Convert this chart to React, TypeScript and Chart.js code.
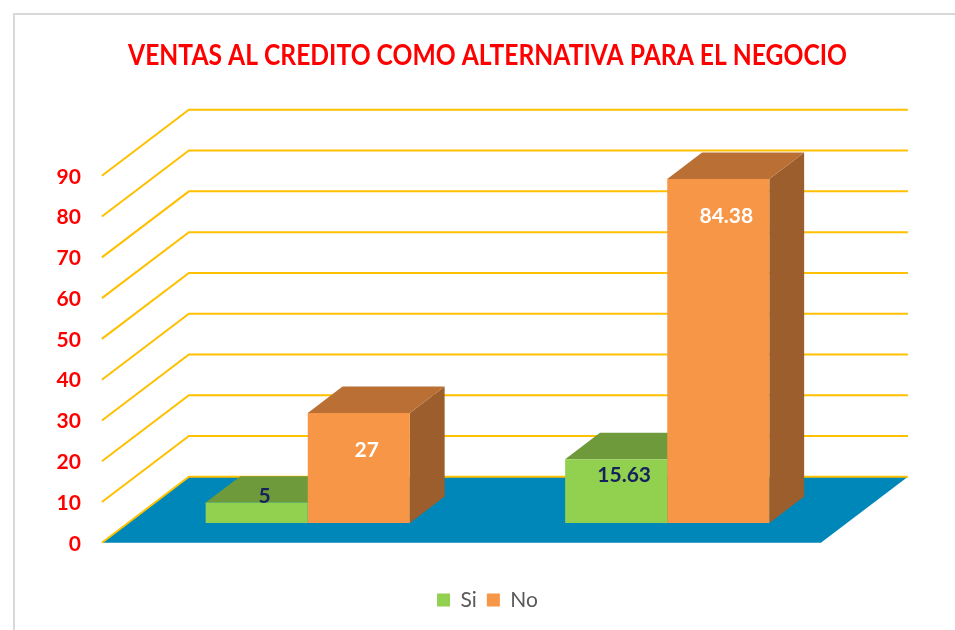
import React, { useEffect, useRef } from "react";
import { Chart, registerables } from "chart.js";

Chart.register(...registerables);

// ---- data ----
const TITLE = "VENTAS AL CREDITO COMO ALTERNATIVA PARA EL NEGOCIO";
const categories = ["", ""];
const seriesNames = ["Si", "No"];
const siValues = [5, 15.63];
const noValues = [27, 84.38];
const yMin = 0;
const yMax = 90;
const yStep = 10;

// ---- style ----
const FONT = "Lato, 'Open Sans', sans-serif";
const DEPTH_X = 87;
const DEPTH_Y = 66;
const BAR_NEAR = 0.3;
const BAR_FAR = 0.7;
const frontColors = ["#92D050", "#F79646"];
const faceColors = [
  { top: "#6E9A3B", side: "#5B8330" },
  { top: "#BA6F34", side: "#9C5E2C" },
];
const labelColors = ["#14215A", "#FFFFFF"];

function plane(f: number) {
  return { dx: (f - BAR_NEAR) * DEPTH_X, dy: -(f - BAR_NEAR) * DEPTH_Y };
}

const threeD = {
  id: "threeD",
  beforeDraw(chart: any) {
    const { ctx, width, height } = chart;
    ctx.save();
    ctx.fillStyle = "#FFFFFF";
    ctx.fillRect(0, 0, width, height);
    ctx.strokeStyle = "#D9D9D9";
    ctx.lineWidth = 2;
    ctx.strokeRect(14, 14, width + 40, height + 40);
    ctx.restore();
  },
  beforeDatasetsDraw(chart: any) {
    const { ctx, chartArea: a, scales } = chart;
    const y = scales.y;
    const near = plane(0);
    const far = plane(1);
    const y0 = y.getPixelForValue(0);
    ctx.save();
    // floor
    ctx.fillStyle = "#0087B9";
    ctx.beginPath();
    ctx.moveTo(a.left + near.dx, y0 + near.dy);
    ctx.lineTo(a.left + far.dx, y0 + far.dy);
    ctx.lineTo(a.right + far.dx, y0 + far.dy);
    ctx.lineTo(a.right + near.dx, y0 + near.dy);
    ctx.closePath();
    ctx.fill();
    // gridlines (side wall + back wall)
    ctx.strokeStyle = "#FFC000";
    ctx.lineWidth = 2;
    for (const t of y.ticks) {
      const py = y.getPixelForValue(t.value);
      ctx.beginPath();
      ctx.moveTo(a.left + near.dx, py + near.dy);
      ctx.lineTo(a.left + far.dx, py + far.dy);
      ctx.lineTo(a.right + far.dx, py + far.dy);
      ctx.stroke();
    }
    // tick labels
    ctx.fillStyle = "#FF0000";
    ctx.font = `bold 21px ${FONT}`;
    ctx.textAlign = "right";
    ctx.textBaseline = "middle";
    for (const t of y.ticks) {
      const py = y.getPixelForValue(t.value);
      ctx.fillText(t.label ?? String(t.value), a.left + near.dx - 21, py + near.dy + 1);
    }
    // bar side + top faces
    const bdx = (BAR_FAR - BAR_NEAR) * DEPTH_X;
    const bdy = (BAR_FAR - BAR_NEAR) * DEPTH_Y;
    chart.data.datasets.forEach((_ds: any, i: number) => {
      const meta = chart.getDatasetMeta(i);
      if (meta.hidden) return;
      meta.data.forEach((el: any) => {
        const { x, y: top, base, width } = el.getProps(["x", "y", "base", "width"], true);
        const l = x - width / 2;
        const r = x + width / 2;
        ctx.fillStyle = faceColors[i].side;
        ctx.beginPath();
        ctx.moveTo(r, top);
        ctx.lineTo(r + bdx, top - bdy);
        ctx.lineTo(r + bdx, base - bdy);
        ctx.lineTo(r, base);
        ctx.closePath();
        ctx.fill();
        ctx.fillStyle = faceColors[i].top;
        ctx.beginPath();
        ctx.moveTo(l, top);
        ctx.lineTo(r, top);
        ctx.lineTo(r + bdx, top - bdy);
        ctx.lineTo(l + bdx, top - bdy);
        ctx.closePath();
        ctx.fill();
      });
    });
    ctx.restore();
  },
  afterDatasetsDraw(chart: any) {
    const { ctx } = chart;
    const bdy = (BAR_FAR - BAR_NEAR) * DEPTH_Y;
    ctx.save();
    ctx.font = `bold 21px ${FONT}`;
    ctx.textAlign = "center";
    ctx.textBaseline = "middle";
    chart.data.datasets.forEach((ds: any, i: number) => {
      const meta = chart.getDatasetMeta(i);
      if (meta.hidden) return;
      meta.data.forEach((el: any, j: number) => {
        const { x, y: top, base } = el.getProps(["x", "y", "base"], true);
        const mid = (top + base) / 2 - bdy / 2;
        const ly = Math.min(mid, top + 40);
        ctx.fillStyle = labelColors[i];
        ctx.fillText(String(ds.data[j]), x + 8, ly - 3);
      });
    });
    ctx.restore();
  },
};

export default function App() {
  const ref = useRef<HTMLCanvasElement | null>(null);
  useEffect(() => {
    if (!ref.current) return;
    const chart = new Chart(ref.current, {
      type: "bar",
      data: {
        labels: categories,
        datasets: [
          { label: seriesNames[0], data: siValues, backgroundColor: frontColors[0], borderWidth: 0 },
          { label: seriesNames[1], data: noValues, backgroundColor: frontColors[1], borderWidth: 0 },
        ],
      },
      options: {
        responsive: false,
        animation: false,
        events: [],
        layout: { padding: { left: 128, right: 108, top: 0, bottom: 9.5 } },
        datasets: { bar: { categoryPercentage: 0.568, barPercentage: 1 } },
        scales: {
          x: {
            display: true,
            grid: { display: false },
            border: { display: false },
            ticks: { display: false },
            afterFit: (s: any) => {
              s.height = 56.5;
            },
          },
          y: { display: false, min: yMin, max: yMax, ticks: { stepSize: yStep } },
        },
        plugins: {
          title: {
            display: true,
            text: TITLE,
            color: "#FF0000",
            font: { family: FONT, size: 28, weight: "bold" },
            padding: { top: 39, bottom: 83.4 },
          },
          legend: {
            display: true,
            position: "bottom",
            labels: {
              color: "#595959",
              font: { family: FONT, size: 21 },
              boxWidth: 13,
              boxHeight: 13,
              padding: 10,
            },
          },
          tooltip: { enabled: false },
        },
      } as any,
      plugins: [threeD],
    });
    return () => chart.destroy();
  }, []);
  return (
    <div style={{ position: "absolute", left: 0, top: 0, width: 955, height: 630, background: "#fff" }}>
      <canvas ref={ref} width={955} height={630} style={{ display: "block" }} />
    </div>
  );
}
